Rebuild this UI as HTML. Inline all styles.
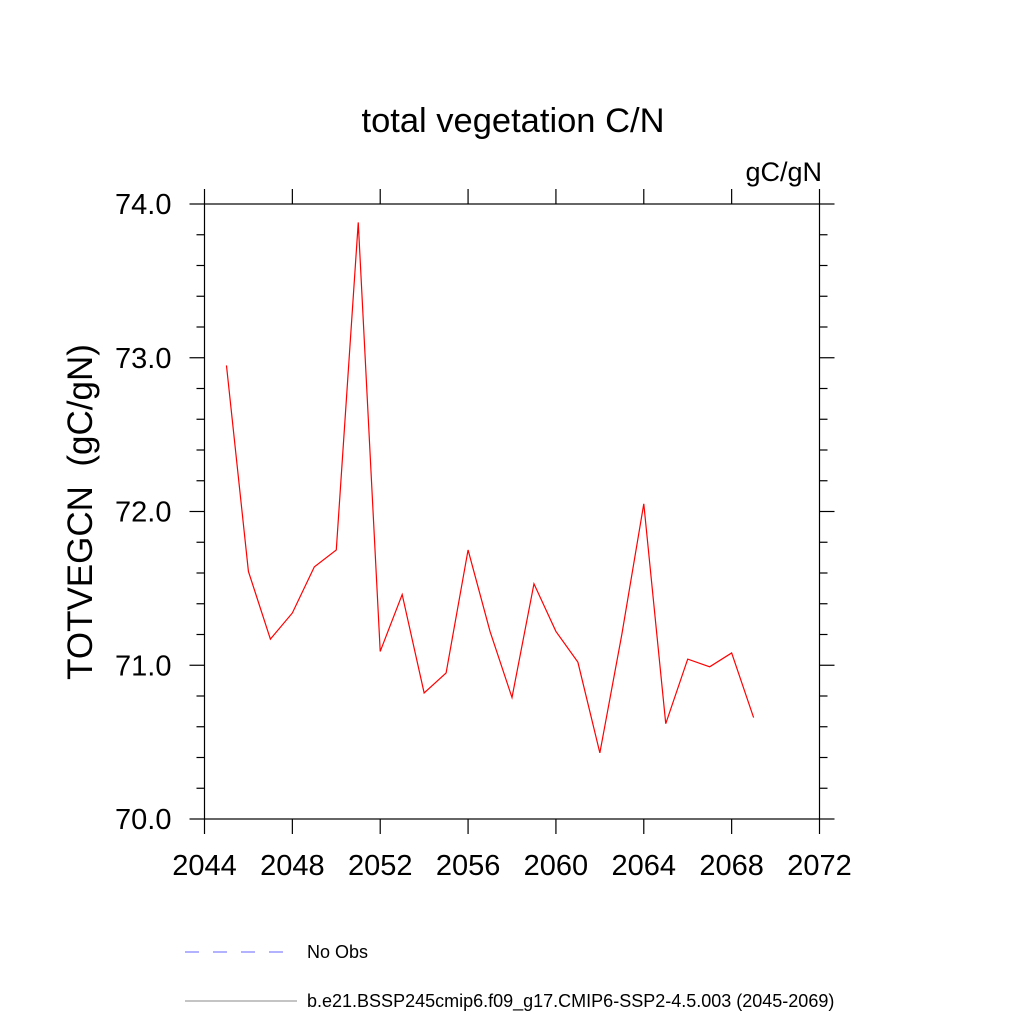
<!DOCTYPE html>
<html><head><meta charset="utf-8"><style>
body{margin:0;background:#fff}
svg text{font-family:"Liberation Sans",sans-serif;fill:#000}
</style></head><body>
<svg id="chart" width="1024" height="1024" viewBox="0 0 1024 1024" xmlns="http://www.w3.org/2000/svg">
<rect width="1024" height="1024" fill="#fff"/>
<text x="513" y="132" font-size="34.5" text-anchor="middle">total vegetation C/N</text>
<text x="822" y="181" font-size="27" text-anchor="end">gC/gN</text>
<text transform="translate(92,512) rotate(-90)" font-size="35" text-anchor="middle" xml:space="preserve">TOTVEGCN  (gC/gN)</text>
<g id="axes"></g>
<polyline id="series" fill="none" stroke="#ff0000" stroke-width="1.2"/>
<line x1="185" y1="952" x2="292" y2="952" stroke="#6666ff" stroke-width="1" stroke-dasharray="14,14"/>
<text x="307" y="958" font-size="18">No Obs</text>
<line x1="185" y1="1001" x2="297" y2="1001" stroke="#888" stroke-width="1"/>
<text x="307" y="1007" font-size="18">b.e21.BSSP245cmip6.f09_g17.CMIP6-SSP2-4.5.003 (2045-2069)</text>
</svg>
<script>
const years=[2045,2046,2047,2048,2049,2050,2051,2052,2053,2054,2055,2056,2057,2058,2059,2060,2061,2062,2063,2064,2065,2066,2067,2068,2069];
const values=[72.95,71.61,71.17,71.34,71.64,71.75,73.88,71.09,71.46,70.82,70.95,71.75,71.22,70.79,71.53,71.22,71.02,70.43,71.2,72.05,70.62,71.04,70.99,71.08,70.66];
const xTicks=[2044,2048,2052,2056,2060,2064,2068,2072];
const yTicks=[70.0,71.0,72.0,73.0,74.0];
const L=204.5,R=819.5,T=204,B=819;
const xMin=2044,xMax=2072,yMin=70,yMax=74;
function X(v){return L+(v-xMin)/(xMax-xMin)*(R-L);}
function Y(v){return B-(v-yMin)/(yMax-yMin)*(B-T);}
const ns="http://www.w3.org/2000/svg";
const ax=document.getElementById('axes');
function ln(x1,y1,x2,y2,name,w){const l=document.createElementNS(ns,'line');
l.setAttribute('x1',x1);l.setAttribute('y1',y1);l.setAttribute('x2',x2);l.setAttribute('y2',y2);
l.setAttribute('stroke','#000');l.setAttribute('stroke-width',w||1.2);


ax.appendChild(l);}
function tx(x,y,s,anchor,name){const t=document.createElementNS(ns,'text');
t.setAttribute('x',x);t.setAttribute('y',y);t.setAttribute('font-size','29');t.setAttribute('text-anchor',anchor);t.textContent=s;


ax.appendChild(t);}
const fr=document.createElementNS(ns,'rect');
fr.setAttribute('x',L);fr.setAttribute('y',T);fr.setAttribute('width',R-L);fr.setAttribute('height',B-T);
fr.setAttribute('fill','none');fr.setAttribute('stroke','#000');fr.setAttribute('stroke-width','1.2');


ax.appendChild(fr);
xTicks.forEach(v=>{const x=X(v);ln(x,B,x,B+15,'x-tick');ln(x,T,x,T-15,'x-tick-top');tx(x,B+56,String(v),'middle','x-tick-label');});
for(let v=yMin;v<=yMax+1e-6;v+=0.2){const y=Y(v);const major=Math.abs(v-Math.round(v))<1e-6;const len=major?15:8;
ln(L,y,L-len,y,'y-tick');ln(R,y,R+len,y,'y-tick-right');}
yTicks.forEach(v=>{tx(L-33,Y(v)+10,v.toFixed(1),'end','y-tick-label');});
document.getElementById('series').setAttribute('points',years.map((y,i)=>X(y)+','+Y(values[i])).join(' '));
</script>
</body></html>
